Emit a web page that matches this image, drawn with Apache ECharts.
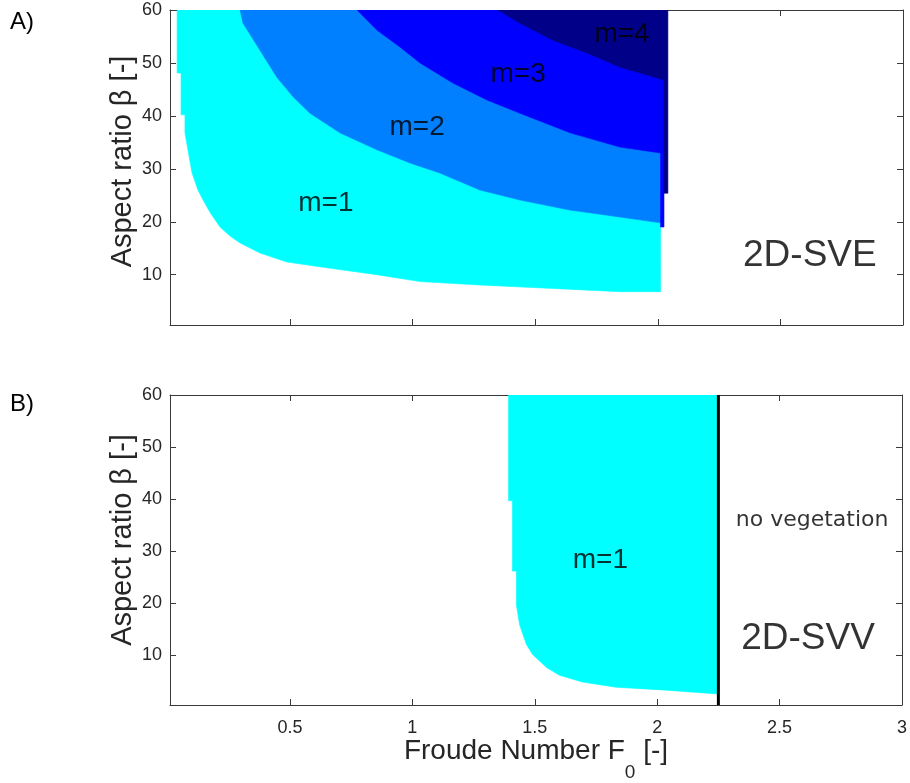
<!DOCTYPE html>
<html>
<head>
<meta charset="utf-8">
<script src="https://cdn.jsdelivr.net/npm/echarts@6/dist/echarts.min.js"></script>
<style>
  html, body { margin: 0; padding: 0; background: #fff; }
  #chart { width: 910px; height: 783px; }
</style>
</head>
<body>
<div id="chart"></div>
<script>
// Tick positions
const F_TICKS = [0.5, 1, 1.5, 2, 2.5, 3];
const BETA_TICKS = [10, 20, 30, 40, 50, 60];

// 2D-SVE: boundaries [F0, beta] between unstable modes
const sveM1Lower = [[0.039, 60], [0.039, 48.1], [0.055, 48.1], [0.055, 40.2], [0.071, 40.2], [0.071, 36.8],
  [0.083, 33.6], [0.100, 29.2], [0.124, 26.0], [0.145, 24.1], [0.173, 21.8], [0.214, 19.0], [0.255, 17.3],
  [0.296, 16.0], [0.377, 14.1], [0.487, 12.4], [0.650, 11.3], [0.854, 10.0], [1.03, 8.7], [1.274, 8.05],
  [1.572, 7.4], [1.846, 6.8], [2.011, 6.8]];
const sveM1M2 = [[0.296, 60], [0.308, 57.5], [0.377, 52.4], [0.446, 47.3], [0.512, 43.6], [0.581, 40.5],
  [0.703, 36.8], [0.854, 33.6], [0.989, 31.1], [1.111, 29.2], [1.274, 26.0], [1.438, 24.1], [1.642, 22.2],
  [1.846, 20.9], [2.011, 19.8]];
const sveM2M3 = [[0.773, 60], [0.854, 56.2], [0.948, 53.0], [1.03, 50.0], [1.164, 46.2], [1.303, 43.0],
  [1.438, 40.5], [1.642, 36.8], [1.846, 34.1], [2.011, 33.0]];
const sveM3M4 = [[1.348, 60], [1.438, 57.5], [1.572, 54.3], [1.711, 51.9], [1.846, 49.2], [2.025, 46.8]];
// right-hand closing edges of each mode region
const sveM1Edge = [[2.011, 60]];
const sveM2Edge = [[2.011, 60]];
const sveM3Edge = [[2.011, 19.0], [2.025, 19.0], [2.025, 60]];
const sveM4Edge = [[2.025, 25.4], [2.041, 25.4], [2.041, 60]];

// 2D-SVV: lower boundary of the m=1 region and the vegetation limit
const svvM1Lower = [[1.393, 60], [1.393, 39.7], [1.409, 39.7], [1.409, 26.2], [1.425, 26.2], [1.425, 19.7],
  [1.438, 15.9], [1.466, 12.1], [1.491, 10.2], [1.548, 7.7], [1.601, 6.2], [1.695, 4.9], [1.833, 3.9],
  [2.037, 3.35], [2.25, 2.6]];
const svvM1Edge = [[2.25, 60]];
const svvLimit = [[2.25, 0.5], [2.25, 60]];

// Annotations
const sveModeLabels = [['m=1', 0.646, 23.4], ['m=2', 1.018, 37.9], ['m=3', 1.43, 47.9], ['m=4', 1.854, 55.5]];
const svvModeLabels = [['m=1', 1.768, 28.3]];
const sveName = [['2D-SVE', 2.62, 13.6]];
const svvName = [['2D-SVV', 2.616, 13.3]];
const svvNote = [['no vegetation', 2.633, 35.9]];

const MODE_COLORS = ['#00FFFF', '#0080FF', '#0000FF', '#000088'];
const AXIS_COLOR = '#3a3a3a';
const TEXT_COLOR = '#262626';
const FONT = 'Liberation Sans, Arial, sans-serif';

function regionSeries(points, color, gi) {
  return {
    type: 'custom',
    xAxisIndex: gi * 2,
    yAxisIndex: gi * 2,
    silent: true,
    clip: true,
    z: 2,
    data: [0],
    renderItem: function (params, api) {
      return {
        type: 'polygon',
        shape: { points: points.map(p => api.coord(p)) },
        style: { fill: color, stroke: color, lineWidth: 0.6 }
      };
    }
  };
}

function textSeries(items, gi, size, family) {
  return {
    type: 'scatter',
    xAxisIndex: gi * 2,
    yAxisIndex: gi * 2,
    silent: true,
    symbolSize: 0,
    z: 5,
    data: items.map(t => ({ name: t[0], value: [t[1], t[2]] })),
    label: {
      show: true,
      position: 'inside',
      formatter: '{b}',
      color: '#000',
      textBorderWidth: 0,
      fontSize: size,
      fontFamily: family
    }
  };
}

function xAxes(gi, withLabels) {
  const common = {
    gridIndex: gi, type: 'value', min: 0.01, max: 3,
    splitLine: { show: false },
    axisLine: { show: true, onZero: false, lineStyle: { color: AXIS_COLOR, width: 1 } },
    axisTick: { show: true, inside: true, length: 6, customValues: F_TICKS, lineStyle: { color: AXIS_COLOR } }
  };
  const bottom = Object.assign({}, common, {
    position: 'bottom',
    axisLabel: {
      show: withLabels, customValues: F_TICKS, color: TEXT_COLOR, fontSize: 18, fontFamily: FONT, margin: 14,
      formatter: v => String(v)
    }
  });
  if (withLabels) {
    Object.assign(bottom, {
      name: '{a|Froude Number F}{s|0}{a| [-]}',
      nameLocation: 'middle',
      nameGap: 32,
      nameMoveOverlap: false,
      nameTextStyle: {
        rich: {
          a: { fontSize: 28, fontFamily: FONT, color: TEXT_COLOR, verticalAlign: 'top', lineHeight: 30 },
          s: { fontSize: 19, fontFamily: FONT, color: TEXT_COLOR, verticalAlign: 'top', lineHeight: 19, padding: [26, 0, 0, 0] }
        }
      }
    });
  }
  const top = Object.assign({}, common, { position: 'top', axisLabel: { show: false } });
  return [bottom, top];
}

function yAxes(gi, shift) {
  const common = {
    gridIndex: gi, type: 'value', min: 0.5, max: 60,
    splitLine: { show: false },
    axisLine: { show: true, onZero: false, lineStyle: { color: AXIS_COLOR, width: 1 } },
    axisTick: { show: true, inside: true, length: 6, customValues: BETA_TICKS, lineStyle: { color: AXIS_COLOR } }
  };
  const left = Object.assign({}, common, {
    position: 'left',
    name: 'Aspect ratio β [-]',
    nameLocation: 'middle',
    nameGap: 33,
    nameMoveOverlap: false,
    nameTextStyle: { fontSize: 29, fontFamily: FONT, color: TEXT_COLOR, padding: [0, 0, 0, shift] },
    axisLabel: { show: true, customValues: BETA_TICKS, color: TEXT_COLOR, fontSize: 18, fontFamily: FONT, margin: 8 }
  });
  const right = Object.assign({}, common, { position: 'right', axisLabel: { show: false } });
  return [left, right];
}

const chart = echarts.init(document.getElementById('chart'), null, { renderer: 'canvas' });

const option = {
  animation: false,
  backgroundColor: '#fff',
  grid: [
    { left: 170, top: 10, width: 733, height: 315 },
    { left: 170, top: 395, width: 733, height: 313 }
  ],
  xAxis: [...xAxes(0, false), ...xAxes(1, true)],
  yAxis: [...yAxes(0, 12), ...yAxes(1, 20)],
  graphic: [
    { type: 'text', left: 10, top: 10, style: { text: 'A)', fontSize: 24, fontFamily: FONT, fill: '#000' } },
    { type: 'text', left: 10, top: 392, style: { text: 'B)', fontSize: 24, fontFamily: FONT, fill: '#000' } }
  ],
  series: [
    regionSeries(sveM1Lower.concat(sveM1Edge), MODE_COLORS[0], 0),
    regionSeries(sveM1M2.concat(sveM2Edge), MODE_COLORS[1], 0),
    regionSeries(sveM2M3.concat(sveM3Edge), MODE_COLORS[2], 0),
    regionSeries(sveM3M4.concat(sveM4Edge), MODE_COLORS[3], 0),
    regionSeries(svvM1Lower.concat(svvM1Edge), MODE_COLORS[0], 1),
    {
      type: 'line', xAxisIndex: 2, yAxisIndex: 2, silent: true, symbol: 'none', z: 4, clip: false,
      data: svvLimit, lineStyle: { color: '#000', width: 3 }
    },
    textSeries(sveModeLabels, 0, 28, FONT),
    textSeries(svvModeLabels, 1, 28, FONT),
    textSeries(sveName, 0, 37, FONT),
    textSeries(svvName, 1, 37, FONT),
    textSeries(svvNote, 1, 22, 'DejaVu Sans, Verdana, sans-serif')
  ]
};

chart.setOption(option);
</script>
</body>
</html>
